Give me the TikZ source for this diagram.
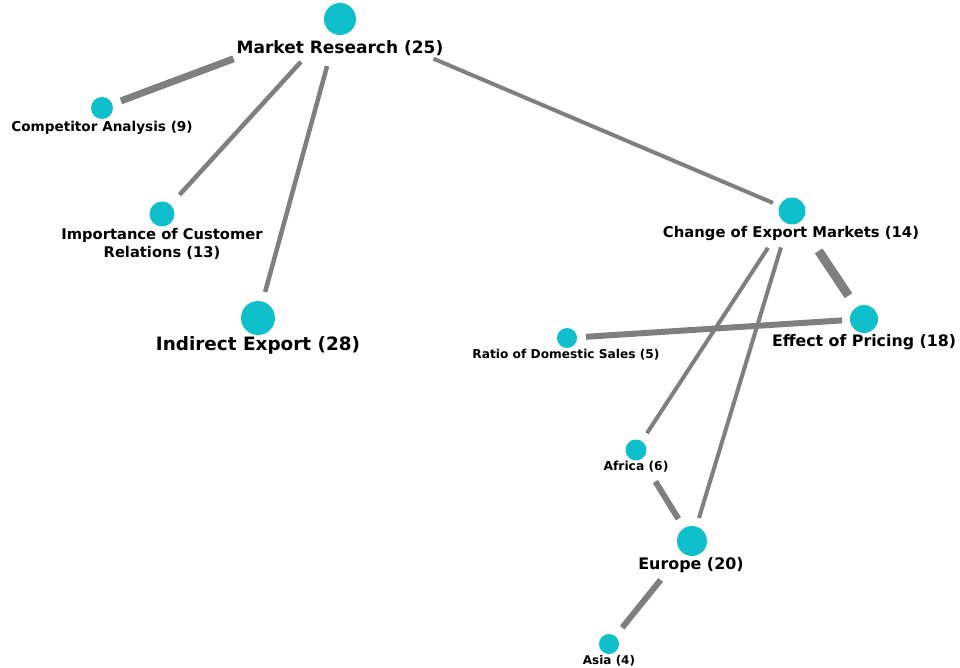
\documentclass[tikz,border=0pt]{standalone}
\usepackage{fontspec}
\setmainfont{DejaVu Sans}
\definecolor{nodecyan}{HTML}{0FBFCC}
\definecolor{edgegray}{HTML}{7F7F7F}
\begin{document}
\begin{tikzpicture}[x=1pt,y=-1pt,
  dot/.style={circle,fill=nodecyan,draw=none,inner sep=0pt,minimum size=#1},
  lab/.style={font=\bfseries\fontsize{#1}{18}\selectfont,text=black,inner sep=0pt,align=center},
  edge/.style={draw=edgegray,line width=#1}]
\useasboundingbox (0,0) rectangle (960,668);
% circles
\node[dot=32pt] (mr) at (340,19) {};
\node[dot=22pt] (ca) at (102,108) {};
\node[dot=25pt] (ic) at (162,214) {};
\node[dot=34pt] (ie) at (258,318) {};
\node[dot=27pt] (cem) at (792,211) {};
\node[dot=28pt] (ep) at (864,319) {};
\node[dot=20pt] (rds) at (567,338) {};
\node[dot=21pt] (af) at (636,450) {};
\node[dot=30pt] (eu) at (692,541) {};
\node[dot=20pt] (as) at (609,644) {};
% labels
\node[lab=17] (mrl) at (340,48) {Market Research (25)};
\node[lab=13.6] (cal) at (102,128) {Competitor Analysis (9)};
\node[lab=14.7] (icl) at (162,244) {Importance of Customer\\Relations (13)};
\node[lab=18.4] (iel) at (258,345) {Indirect Export (28)};
\node[lab=14.8] (ceml) at (791,233) {Change of Export Markets (14)};
\node[lab=15.8] (epl) at (864,342) {Effect of Pricing (18)};
\node[lab=12.2] (rdsl) at (566,355) {Ratio of Domestic Sales (5)};
\node[lab=12.3] (afl) at (636,467) {Africa (6)};
\node[lab=15.9] (eul) at (691,565) {Europe (20)};
\node[lab=12] (asl) at (609,661) {Asia (4)};
% edges
\draw[edge=7pt, shorten <=113.6pt, shorten >=20.2pt] (mr.center) -- (ca.center);
\draw[edge=4.5pt, shorten <=58pt, shorten >=26pt] (mr.center) -- (ic.center);
\draw[edge=4.5pt, shorten <=48.8pt, shorten >=27pt] (mr.center) -- (ie.center);
\draw[edge=4pt, shorten <=101.6pt, shorten >=20.6pt] (mr.center) -- (cem.center);
\draw[edge=9pt, shorten <=48pt, shorten >=28pt] (cem.center) -- (ep.center);
\draw[edge=4pt, shorten <=44pt, shorten >=20pt] (cem.center) -- (af.center);
\draw[edge=4pt, shorten <=38pt, shorten >=24pt] (cem.center) -- (eu.center);
\draw[edge=6pt, shorten <=19pt, shorten >=22pt] (rds.center) -- (ep.center);
\draw[edge=6pt, shorten <=37pt, shorten >=26pt] (af.center) -- (eu.center);
\draw[edge=6pt, shorten <=50pt, shorten >=21pt] (eu.center) -- (as.center);
\end{tikzpicture}
\end{document}
